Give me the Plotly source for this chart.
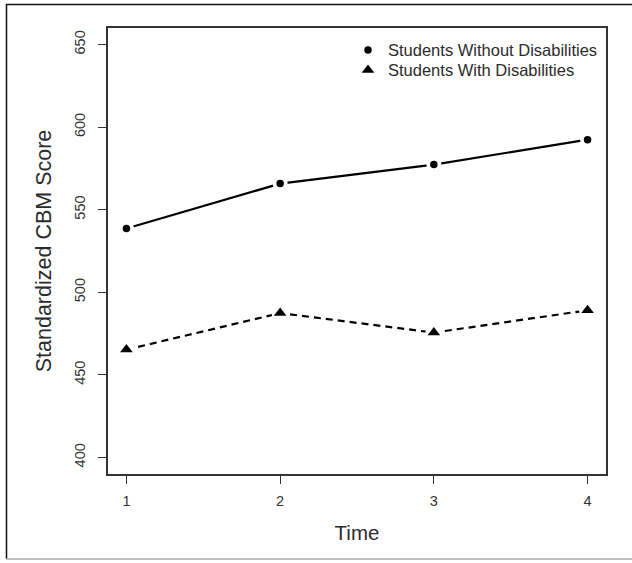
import plotly.graph_objects as go

# ---- data ----
time_points = [1, 2, 3, 4]
without_dis = [538.6, 565.8, 577.3, 592.4]
with_dis = [465.3, 487.4, 475.6, 489.1]
series_names = ["Students Without Disabilities", "Students With Disabilities"]
y_ticks = [400, 450, 500, 550, 600, 650]
x_ticks = [1, 2, 3, 4]

W, H = 632, 563
ML, MR, MT, MB = 108, 26, 28, 89
PW, PH = W - ML - MR, H - MT - MB
FONT = "Liberation Sans, Arial, Helvetica, sans-serif"
TXT = "#2b2b2b"


def px_x(px):
    return (px - ML) / PW


def px_y(py):
    return 1 - (py - MT) / PH


fig = go.Figure()

styles = [
    dict(dash="solid", symbol="circle", size=7.5, gap=15, legend="legend"),
    dict(dash="7px,5px", symbol="triangle-up", size=11, gap=17, legend="legend2"),
]
for name, vals, st in zip(series_names, [without_dis, with_dis], styles):
    fig.add_trace(go.Scatter(
        x=time_points, y=vals, mode="lines",
        line=dict(color="black", width=2.2, dash=st["dash"]),
        showlegend=False, hoverinfo="skip"))
    fig.add_trace(go.Scatter(
        x=time_points, y=vals, mode="markers",
        marker=dict(color="white", size=st["gap"], symbol="circle"),
        showlegend=False, hoverinfo="skip"))
    fig.add_trace(go.Scatter(
        x=time_points, y=vals, mode="markers", name=name, legend=st["legend"],
        marker=dict(color="black", size=st["size"], symbol=st["symbol"])))

axis_common = dict(
    showgrid=False, zeroline=False, showline=True, mirror=True,
    linecolor="#333333", linewidth=1.5,
    ticks="outside", ticklen=8, tickwidth=1.3, tickcolor="#333333",
    tickfont=dict(family=FONT, size=14.5, color="#333333"),
)

legend_common = dict(xanchor="left", yanchor="top", bgcolor="rgba(0,0,0,0)",
                     borderwidth=0, font=dict(family=FONT, size=16.5, color=TXT),
                     itemwidth=30)

fig.update_layout(
    width=W, height=H,
    margin=dict(l=ML, r=MR, t=MT, b=MB, pad=0),
    paper_bgcolor="white", plot_bgcolor="white",
    font=dict(family=FONT, color=TXT),
    xaxis=dict(range=[0.88, 4.12], tickmode="array", tickvals=x_ticks,
               ticklabelstandoff=5,
               title=dict(text="Time", font=dict(family=FONT, size=20.5, color=TXT),
                          standoff=17),
               **axis_common),
    yaxis=dict(range=[390, 660], tickmode="array", tickvals=y_ticks, tickangle=-90,
               ticklabelstandoff=7,
               title=dict(text="Standardized CBM Score",
                          font=dict(family=FONT, size=21.5, color=TXT), standoff=15),
               **axis_common),
    legend=dict(x=px_x(348), y=px_y(32.8), **legend_common),
    legend2=dict(x=px_x(348), y=px_y(52.8), **legend_common),
    shapes=[
        dict(type="line", xref="paper", yref="paper", x0=px_x(6), x1=px_x(632),
             y0=px_y(4.5), y1=px_y(4.5), line=dict(color="#111111", width=1.5)),
        dict(type="line", xref="paper", yref="paper", x0=px_x(6.5), x1=px_x(6.5),
             y0=px_y(4), y1=px_y(559), line=dict(color="#111111", width=1.5)),
        dict(type="line", xref="paper", yref="paper", x0=px_x(6), x1=px_x(632),
             y0=px_y(559), y1=px_y(559), line=dict(color="#aaaaaa", width=1.5)),
    ],
)

fig.write_html("out.html", config={"displayModeBar": False},
               post_script="document.body.style.margin='0';")
